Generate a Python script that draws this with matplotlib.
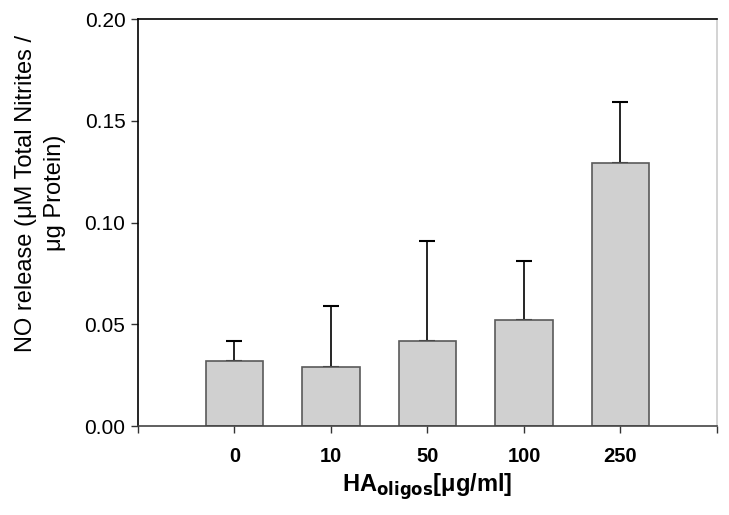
import matplotlib
matplotlib.use("Agg")
import matplotlib.pyplot as plt

categories = ["0", "10", "50", "100", "250"]
means = [0.032, 0.029, 0.042, 0.052, 0.129]
errors = [0.010, 0.030, 0.049, 0.029, 0.030]
yticks = [0.00, 0.05, 0.10, 0.15, 0.20]

plt.rcParams['font.family'] = ['Liberation Sans', 'DejaVu Sans']

fig = plt.figure(figsize=(7.29, 5.15), dpi=100)
ax = fig.add_axes([0.1893, 0.1728, 0.7942, 0.7903])

x = list(range(len(categories)))
ax.bar(x, means, width=0.6, color='#d0d0d0', edgecolor='#5a5a5a', linewidth=1.2, zorder=2)
ax.errorbar(x, means, yerr=[[0]*len(errors), errors], fmt='none', ecolor='black',
            elinewidth=1.2, capsize=6, capthick=1.5, zorder=1)

ax.set_xlim(-1, 5)
ax.set_ylim(0, 0.20)
ax.set_xticks(list(range(-1, 6)))
ax.set_xticklabels([""] + categories + [""], fontweight='bold', fontsize=14.5)
ax.set_yticks(yticks)
ax.set_yticklabels([f"{v:.2f}" for v in yticks], fontsize=15)
ax.tick_params(axis='both', direction='out', length=5, width=1, color='#333333')
ax.tick_params(axis='x', pad=10)
ax.tick_params(axis='y', pad=4)

ax.spines['left'].set_color('black')
ax.spines['top'].set_color('black')
ax.spines['bottom'].set_color('#444444')
ax.spines['right'].set_color('#cccccc')
for s in ax.spines.values():
    s.set_linewidth(1.2)

ax.set_xlabel(r"HA$_{\mathbf{oligos}}$[μg/ml]", fontsize=17, fontweight='bold', labelpad=4)
fig.text(0.056, 0.625, "NO release (μM Total Nitrites /\nμg Protein)", fontsize=17,
         rotation=90, ha='center', va='center', multialignment='center', linespacing=1.4)

fig.savefig("out.png", dpi=100)
